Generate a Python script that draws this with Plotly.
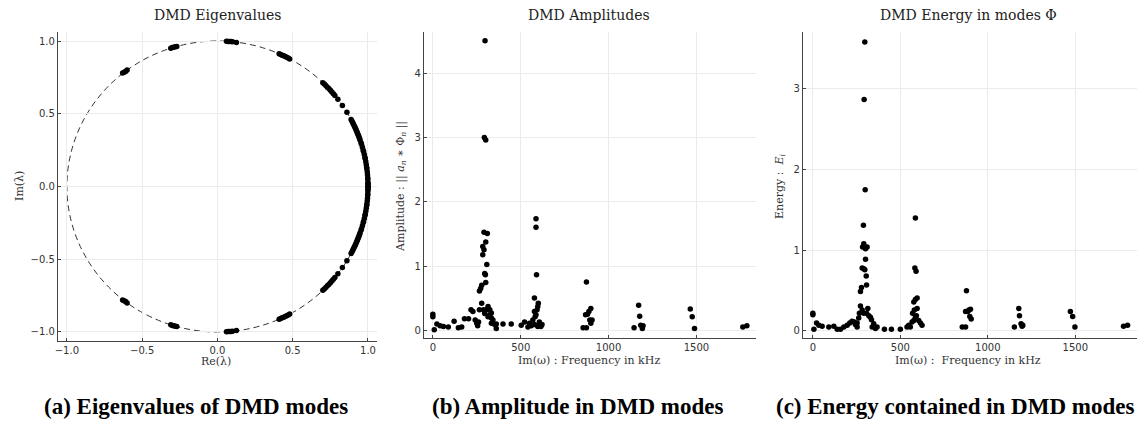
import plotly.graph_objects as go

# ---------------- data ----------------
# upper-half DMD eigenvalues (lower half = complex conjugates)
eig_re_upper = [-0.63, -0.62, -0.61, -0.60,
                -0.31, -0.30, -0.29, -0.28, -0.27,
                0.06, 0.07, 0.08, 0.09, 0.10, 0.126,
                0.41, 0.42, 0.43, 0.44, 0.45, 0.46, 0.47, 0.48,
                0.70, 0.71, 0.72, 0.73, 0.74, 0.75, 0.76, 0.77, 0.78, 0.80,
                0.83, 0.86,
                0.8879, 0.8930, 0.8980, 0.9028, 0.9075, 0.9121, 0.9165, 0.9208,
                0.9250, 0.9290, 0.9329, 0.9367, 0.9403, 0.9439, 0.9473, 0.9539,
                0.9570, 0.9629, 0.9682, 0.9708, 0.9755, 0.9798, 0.9818, 0.9854,
                0.9887, 0.9915, 0.9928, 0.9950, 0.9968, 0.9982, 0.9987, 0.9996,
                0.9998, 1.0000, 1.0000]
eig_im_upper = [0.78, 0.785, 0.79, 0.80,
                0.95, 0.955, 0.957, 0.96, 0.963,
                0.998, 0.997, 0.997, 0.996, 0.995, 0.99,
                0.912, 0.908, 0.903, 0.898, 0.893, 0.888, 0.883, 0.877,
                0.714, 0.704, 0.694, 0.683, 0.673, 0.661, 0.650, 0.638, 0.626, 0.600,
                0.557, 0.510,
                0.46, 0.45, 0.44, 0.43, 0.42, 0.41, 0.40, 0.39,
                0.38, 0.37, 0.36, 0.35, 0.34, 0.33, 0.32, 0.30,
                0.29, 0.27, 0.25, 0.24, 0.22, 0.20, 0.19, 0.17,
                0.15, 0.13, 0.12, 0.10, 0.08, 0.06, 0.05, 0.03,
                0.02, 0.01, 0.00]

amp_freq = [0, 0, 8, 23, 41, 60, 88, 121, 145, 164, 180, 203, 217, 228, 241, 250, 255, 260,
            265, 272, 278, 265, 278, 284, 284, 291, 291, 310, 301, 295, 299, 301, 307,
            288, 305, 314, 324, 324, 333, 333, 342, 352, 361, 361, 333, 314, 295,
            297, 293, 301,
            399, 446, 503, 541, 522, 550, 560, 569, 578, 578, 582, 587, 597, 593, 578,
            587, 587, 590, 600, 606, 615, 621, 597,
            874, 899, 888, 869, 880, 893, 906, 899, 855, 874,
            1171, 1177, 1145, 1183, 1196, 1192,
            1465, 1476, 1489, 1764, 1787]
amp_val = [0.26, 0.22, 0.02, 0.11, 0.08, 0.07, 0.06, 0.15, 0.05, 0.06, 0.19, 0.19, 0.33, 0.30, 0.17, 0.12, 0.08, 0.14,
           0.62, 0.66, 0.71, 0.33, 0.43, 1.18, 1.31, 1.26, 1.53, 1.51, 1.38, 0.89, 0.87, 0.75, 1.03,
           0.33, 0.33, 0.38, 0.33, 0.25, 0.28, 0.20, 0.17, 0.10, 0.11, 0.04, 0.12, 0.22, 0.27,
           4.50, 3.00, 2.96,
           0.11, 0.11, 0.09, 0.06, 0.14, 0.12, 0.08, 0.17, 0.30, 0.10, 0.22, 0.25, 0.38, 0.33, 0.51,
           1.74, 1.61, 0.87, 0.43, 0.14, 0.07, 0.10, 0.07,
           0.76, 0.35, 0.30, 0.25, 0.26, 0.17, 0.17, 0.12, 0.05, 0.05,
           0.40, 0.23, 0.05, 0.09, 0.08, 0.04,
           0.34, 0.22, 0.04, 0.06, 0.08]

en_freq = [0, 0, 6, 21, 34, 53, 91, 120, 139, 158, 177, 196, 211, 224, 237, 243, 253, 253,
           262, 266, 272, 272, 278, 282, 291, 297, 289, 284, 291, 301, 310, 301, 305, 307,
           282, 291, 307, 314, 320, 329, 335, 348, 358, 367, 339,
           297, 293, 299,
           409, 449, 500, 538, 548, 557, 567, 570, 580, 577, 586, 577, 586, 596, 596, 592,
           586, 583, 590, 605, 615, 624,
           878, 873, 892, 901, 886, 897, 905, 854, 873,
           1177, 1181, 1152, 1190, 1200, 1196,
           1472, 1485, 1498, 1776, 1799]
en_val = [0.22, 0.20, 0.02, 0.10, 0.07, 0.06, 0.05, 0.06, 0.02, 0.02, 0.05, 0.07, 0.10, 0.12, 0.11, 0.08, 0.05, 0.10,
          0.16, 0.22, 0.31, 0.49, 0.54, 0.78, 0.77, 0.76, 1.31, 1.04, 1.08, 1.02, 1.04, 0.89, 0.68, 0.57,
          0.26, 0.22, 0.22, 0.28, 0.19, 0.17, 0.14, 0.09, 0.03, 0.05, 0.05,
          3.58, 2.87, 1.75,
          0.02, 0.02, 0.02, 0.05, 0.07, 0.05, 0.11, 0.22, 0.26, 0.13, 0.17, 0.36, 0.39, 0.41, 0.28, 0.19,
          1.40, 0.78, 0.74, 0.13, 0.10, 0.07,
          0.50, 0.24, 0.26, 0.27, 0.24, 0.18, 0.15, 0.05, 0.05,
          0.28, 0.19, 0.05, 0.09, 0.07, 0.06,
          0.24, 0.18, 0.05, 0.06, 0.07]

titles = ["DMD Eigenvalues", "DMD Amplitudes", "DMD Energy in modes Φ"]
captions = ["(a) Eigenvalues of DMD modes", "(b) Amplitude in DMD modes",
            "(c) Energy contained in DMD modes"]

# ---------------- figure ----------------
W, H = 1144, 425
eig_re = eig_re_upper + eig_re_upper
eig_im = eig_im_upper + [-v for v in eig_im_upper]

def px(x):
    return x / W

def py(y):
    return 1 - y / H

# plot areas in pixels (left, right, top, bottom)
boxes = [(55, 375, 32, 341), (422, 755, 32, 338), (802, 1137, 32, 338)]

fig = go.Figure()
mk = dict(color="black", size=5.5)
fig.add_trace(go.Scatter(x=eig_re, y=eig_im, mode="markers", marker=mk, xaxis="x", yaxis="y"))
fig.add_trace(go.Scatter(x=amp_freq, y=amp_val, mode="markers", marker=mk, xaxis="x2", yaxis="y2"))
fig.add_trace(go.Scatter(x=en_freq, y=en_val, mode="markers", marker=mk, xaxis="x3", yaxis="y3"))

tickfont = dict(family="DejaVu Sans", size=10, color="#333333")
common = dict(showgrid=True, gridcolor="#ebebeb", gridwidth=1, zeroline=False,
              showline=True, linecolor="#444444", linewidth=1,
              ticks="inside", ticklen=3, tickcolor="#444444", tickfont=tickfont)

layout = dict(width=W, height=H, margin=dict(l=0, r=0, t=0, b=0),
              paper_bgcolor="white", plot_bgcolor="white", showlegend=False)

ranges = [
    ((-1.06, 1.06), (-1.062, 1.062), [-1.0, -0.5, 0.0, 0.5, 1.0], [-1.0, -0.5, 0.0, 0.5, 1.0]),
    ((-51, 1839), (-0.109, 4.636), [0, 500, 1000, 1500], [0, 1, 2, 3, 4]),
    ((-57, 1853), (-0.087, 3.705), [0, 500, 1000, 1500], [0, 1, 2, 3]),
]
for i, (box, rg) in enumerate(zip(boxes, ranges)):
    l, r, t, b = box
    sfx = "" if i == 0 else str(i + 1)
    xa = dict(common, domain=[px(l), px(r)], range=list(rg[0]), tickvals=rg[2],
              anchor="y" + sfx)
    ya = dict(common, domain=[py(b), py(t)], range=list(rg[1]), tickvals=rg[3],
              anchor="x" + sfx)
    if i == 0:
        xa["tickformat"] = ".1f"
        ya["tickformat"] = ".1f"
    layout["xaxis" + sfx] = xa
    layout["yaxis" + sfx] = ya

fig.update_layout(**layout)

# unit circle (dashed)
fig.add_shape(type="circle", xref="x", yref="y", x0=-1, y0=-1, x1=1, y1=1,
              line=dict(color="#333333", width=1, dash="6px,4px"), layer="below")

serif = "DejaVu Serif"
tcol = "#333333"
ann = []
centers = [215, 588, 968]
for c, t in zip(centers, titles):
    ann.append(dict(text=t, x=px(c), y=py(15), xref="paper", yref="paper", showarrow=False,
                    font=dict(family=serif, size=14, color="#222222"),
                    xanchor="center", yanchor="middle"))
for c, t in zip([194, 576, 955], captions):
    ann.append(dict(text="<b>%s</b>" % t, x=px(c), y=py(406), xref="paper", yref="paper",
                    showarrow=False, font=dict(family="Liberation Serif", size=23, color="black"),
                    xanchor="center", yanchor="middle"))


def axis_title(text, x, y, angle=0):
    ann.append(dict(text=text, x=px(x), y=py(y), xref="paper", yref="paper", showarrow=False,
                    textangle=angle, xanchor="center", yanchor="middle",
                    font=dict(family=serif, size=11, color=tcol)))


axis_title("Re(λ)", 214, 361)
axis_title("Im(ω) : Frequency in kHz", 588, 360)
axis_title("Im(ω) :  Frequency in kHz", 968, 360)
axis_title("Im(λ)", 16, 186, -90)
axis_title("Amplitude : || <i>a</i><sub><i>n</i></sub> ∗ Φ<sub><i>n</i></sub> ||", 399, 186, -90)
axis_title("Energy :  <i>E</i><sub><i>i</i></sub>", 779, 186, -90)
fig.update_layout(annotations=ann)

fig.write_html("out.html")
